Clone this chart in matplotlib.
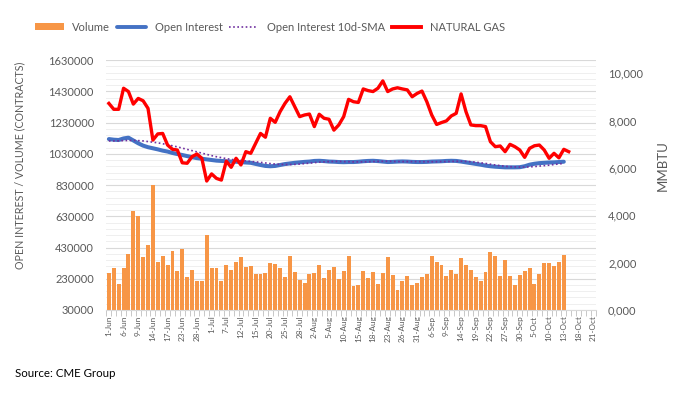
import matplotlib
matplotlib.use('Agg')
import matplotlib.pyplot as plt
import numpy as np
import pandas as pd
from matplotlib.lines import Line2D
from matplotlib.patches import Patch
from matplotlib.ticker import FuncFormatter, FixedLocator

plt.rcParams['font.family'] = ['Lato', 'DejaVu Sans']

# ---- categories (trading days 1-Jun .. 21-Oct 2022) ----
holidays = ['2022-06-20', '2022-07-04', '2022-09-05']
dates = [d for d in pd.bdate_range('2022-06-01', '2022-10-21')
         if d.strftime('%Y-%m-%d') not in holidays]
categories = [f"{d.day}-{d.strftime('%b')}" for d in dates]

# ---- data ----
volume_k = [265, 297, 194, 297, 386, 662, 630, 371, 444, 828,
            335, 373, 316, 406, 278, 418, 239, 284, 214, 214,
            508, 297, 297, 214, 316, 284, 335, 367, 303, 309,
            258, 258, 265, 329, 322, 297, 239, 373, 271, 220,
            201, 258, 265, 316, 233, 284, 303, 226, 278, 373,
            182, 188, 278, 233, 271, 194, 265, 367, 252, 156,
            214, 246, 188, 201, 239, 258, 373, 335, 316, 246,
            284, 258, 361, 316, 284, 239, 214, 271, 399, 373,
            246, 348, 246, 188, 252, 278, 297, 194, 258, 329,
            329, 309, 335, 380]

open_interest_k = [1124, 1120, 1118, 1128, 1133, 1115, 1097, 1082, 1072, 1065,
                   1058, 1050, 1044, 1035, 1028, 1022, 1015, 1008, 1002, 998,
                   994, 990, 986, 984, 982, 980, 979, 976, 974, 972,
                   965, 958, 952, 950, 952, 958, 964, 968, 972, 975,
                   978, 980, 984, 985, 983, 980, 979, 977, 976, 977,
                   977, 979, 982, 984, 985, 983, 980, 977, 978, 980,
                   981, 980, 978, 977, 977, 978, 980, 981, 982, 984,
                   985, 984, 980, 975, 970, 965, 960, 954, 950, 947,
                   945, 943, 943, 943, 944, 950, 960, 966, 970, 972,
                   974, 975, 977, 979]

oi_sma_k = [1112, 1112, 1113, 1114, 1115, 1115, 1114, 1112, 1108, 1104,
            1100, 1094, 1088, 1081, 1074, 1066, 1058, 1050, 1042, 1034,
            1026, 1018, 1011, 1005, 999, 994, 990, 987, 984, 981,
            978, 975, 971, 967, 964, 962, 961, 961, 962, 964,
            967, 970, 973, 976, 978, 980, 981, 981, 980, 979,
            978, 978, 978, 979, 980, 981, 982, 982, 981, 980,
            980, 980, 980, 980, 979, 979, 979, 979, 980, 980,
            981, 982, 982, 981, 979, 976, 972, 968, 963, 958,
            954, 950, 947, 946, 945, 945, 946, 948, 951, 954,
            957, 961, 965, 968]

natural_gas = [8.73, 8.48, 8.48, 9.37, 9.23, 8.70, 8.94, 8.84, 8.52, 7.18,
               7.44, 7.46, 6.97, 6.79, 6.76, 6.22, 6.20, 6.48, 6.59, 6.41,
               5.45, 5.75, 5.56, 5.49, 6.29, 6.03, 6.41, 6.13, 6.69, 6.62,
               7.04, 7.46, 7.30, 8.10, 7.93, 8.38, 8.73, 9.01, 8.59, 8.17,
               8.24, 8.28, 7.75, 8.27, 8.10, 8.06, 7.60, 7.82, 8.17, 8.90,
               8.80, 8.77, 9.34, 9.27, 9.23, 9.37, 9.68, 9.23, 9.34, 9.39,
               9.34, 9.30, 9.01, 9.15, 9.25, 8.80, 8.24, 7.84, 7.92, 7.99,
               8.20, 8.31, 9.13, 8.38, 7.82, 7.79, 7.79, 7.75, 7.11, 6.90,
               6.93, 6.69, 7.00, 6.90, 6.76, 6.45, 6.83, 6.94, 6.97, 6.76,
               6.41, 6.62, 6.43, 6.79, 6.69]

volume = np.array(volume_k) * 1000
open_interest = np.array(open_interest_k) * 1000
oi_sma = np.array(oi_sma_k) * 1000

# ---- colours ----
c_vol = '#F79646'
c_oi = '#4472C4'
c_sma = '#7030A0'
c_ng = '#FF0000'
c_text = '#595959'

fig = plt.figure(figsize=(6.88, 3.94), dpi=100)
ax = fig.add_axes([0.1547, 0.2132, 0.711, 0.6345])
ax2 = ax.twinx()

x_vol = np.arange(len(volume))
x_ng = np.arange(len(natural_gas))

ax.bar(x_vol, volume, width=0.8, color=c_vol, zorder=2)
ax.plot(np.arange(len(open_interest)), open_interest, color=c_oi, lw=2.9,
        zorder=3, solid_capstyle='round')
ax.plot(np.arange(len(oi_sma)), oi_sma, color=c_sma, lw=1.2, ls=(0, (1, 1.5)),
        zorder=4)
ax2.plot(x_ng, natural_gas, color=c_ng, lw=2.4, zorder=5,
         solid_joinstyle='round')

# ---- axes ----
ax.set_xlim(-0.5, len(categories) - 0.5)
ax.set_ylim(30000, 1630000)
ax.yaxis.set_major_locator(FixedLocator(np.arange(30000, 1630001, 200000)))
ax.yaxis.set_minor_locator(FixedLocator(np.arange(30000, 1630001, 40000)))
ax.yaxis.set_major_formatter(FuncFormatter(lambda v, p: f"{int(round(v))}"))
ax.grid(which='major', axis='y', color='#d9d9d9', lw=0.8)
ax.grid(which='minor', axis='y', color='#efefef', lw=0.7)
ax.set_axisbelow(True)

ax2.set_ylim(0, 10.563)
ax2.yaxis.set_major_locator(FixedLocator(np.arange(0, 10.01, 2)))
ax2.yaxis.set_major_formatter(FuncFormatter(lambda v, p: f"{v:.3f}".replace('.', ',')))

tick_pos = list(range(0, len(categories), 3))
ax.set_xticks(tick_pos)
ax.set_xticklabels([categories[i] for i in tick_pos], rotation=90,
                   fontsize=5.9, color=c_text)
ax.set_xticks(np.arange(-0.5, len(categories), 1), minor=True)
ax.tick_params(axis='x', which='major', length=0, pad=4)
ax.tick_params(axis='x', which='minor', length=4, color='#bfbfbf', width=0.6)
ax.tick_params(axis='y', which='both', length=0, pad=9, labelsize=8,
               labelcolor=c_text)
ax2.tick_params(axis='y', which='both', length=0, pad=9, labelsize=8,
                labelcolor=c_text)

for s in ['top', 'left', 'right']:
    ax.spines[s].set_visible(False)
ax.spines['bottom'].set_color('#d9d9d9')
for s in ax2.spines.values():
    s.set_visible(False)

ax.set_ylabel('OPEN INTEREST / VOLUME (CONTRACTS)', fontsize=7.7,
              color=c_text)
ax.yaxis.set_label_coords(-0.166, 0.58)
ax2.set_ylabel('MMBTU', fontsize=9.5, color=c_text)
ax2.yaxis.set_label_coords(1.125, 0.576)

handles = [Patch(facecolor=c_vol, edgecolor='none'),
           Line2D([], [], color=c_oi, lw=2.8, solid_capstyle='round'),
           Line2D([], [], color=c_sma, lw=1.2, ls=(0, (1, 1.5))),
           Line2D([], [], color=c_ng, lw=2.8)]
labels = ['Volume', 'Open Interest', 'Open Interest 10d-SMA', 'NATURAL GAS']
fig.legend(handles, labels, loc='center', bbox_to_anchor=(0.392, 0.931),
           ncol=4, frameon=False, fontsize=8, labelcolor=c_text,
           handlelength=2.6, handleheight=0.6, handletextpad=0.8,
           columnspacing=0.6)

fig.text(0.022, 0.053, 'Source: CME Group', fontsize=8.3, color='black',
         ha='left', va='center')

fig.savefig('out.png', dpi=100)
